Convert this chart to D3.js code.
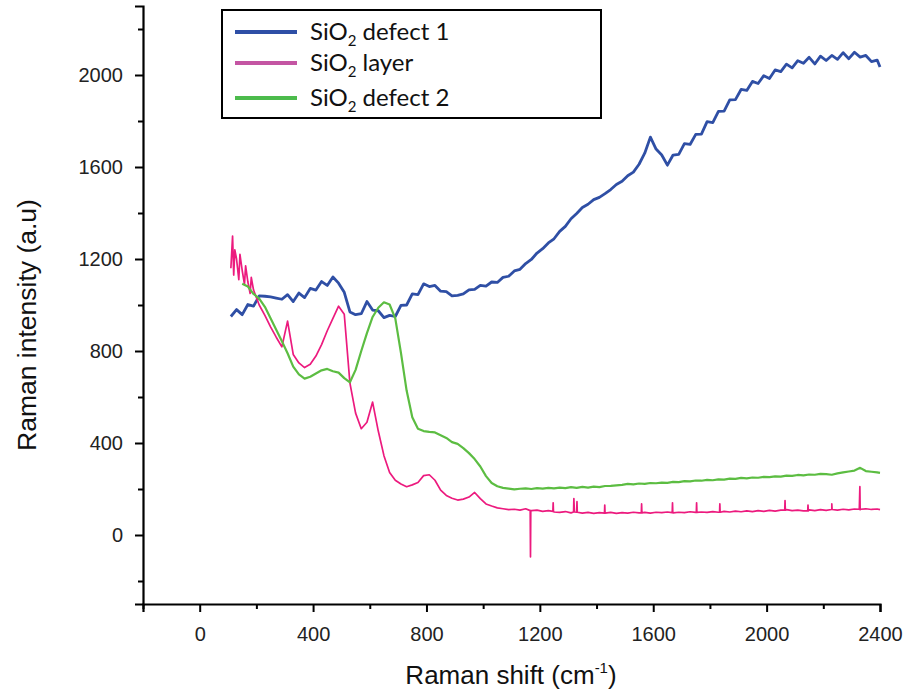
<!DOCTYPE html>
<html><head><meta charset="utf-8">
<script src="https://cdn.jsdelivr.net/npm/d3@7"></script>
<style>body{margin:0;background:#fff}svg{display:block}</style>
</head><body><svg id="c" width="907" height="693"></svg>
<script>
// Raman shift grid (cm^-1): 110..2390 step 20, plus 2400
const shift = d3.range(110, 2400, 20).concat([2400]);

const defect1 = [950,980,958,1002,995,1040,1038,1035,1030,1025,1045,1015,1052,1032,1072,1065,1102,1085,1122,1095,
1055,970,958,962,1015,978,975,945,955,950,998,1000,1048,1045,1092,1080,1085,1060,1058,1040,
1042,1048,1066,1068,1085,1082,1100,1098,1120,1125,1148,1155,1180,1198,1226,1245,1270,1288,1320,1342,
1375,1398,1424,1438,1458,1468,1484,1502,1524,1538,1562,1578,1612,1660,1730,1678,1652,1608,1652,1655,
1702,1698,1742,1743,1797,1793,1842,1843,1892,1893,1937,1933,1972,1963,1997,1985,2022,2015,2047,2031,
2062,2051,2077,2048,2082,2063,2085,2068,2097,2071,2099,2078,2085,2058,2065,2035];

const layer = [1160,1200,1150,1100,1065,1000,955,905,860,818,930,785,748,728,742,778,828,888,942,995,
960,660,530,462,490,578,452,345,272,238,222,210,218,228,258,262,238,195,172,160,
152,156,165,185,158,135,126,118,114,110,112,108,114,106,108,103,106,100,98,102,
96,99,95,98,94,97,95,98,94,97,95,99,96,98,95,99,97,100,96,99,
97,101,98,100,98,102,99,103,100,104,101,105,102,106,103,107,104,108,110,106,
108,105,109,106,110,107,111,108,112,109,113,110,114,111,113,110];

// narrow spikes / early noise of the layer spectrum
const layerSpikeShift = [116,120,124,138,142,158,162,178,182,
1166,1167,1168,1246,1247,1248,1319,1320,1322,1330,1331,1332,1428,1429,1430,1558,1559,1560,
1667,1668,1669,1752,1753,1754,1834,1835,1836,2064,2065,2066,2145,2146,2147,2229,2230,2231,2327,2329,2331];
const layerSpikeValue = [1300,1130,1240,1110,1220,1090,1170,1050,1120,
106,-95,106,103,140,103,100,158,100,99,145,99,95,130,95,96,135,96,
97,140,97,98,140,98,99,135,99,108,150,108,105,130,105,111,135,111,112,210,112];

const defect2 = [null,null,1092,1080,1048,1028,992,942,892,842,790,732,698,680,688,702,716,722,712,706,
682,664,718,800,878,948,988,1012,1002,942,792,628,512,462,452,448,446,434,422,404,
396,378,356,330,298,256,226,212,205,202,198,201,203,200,204,202,205,203,206,204,
208,205,209,206,210,208,213,214,216,218,222,220,224,222,226,225,228,227,231,230,
234,233,237,236,240,238,242,241,245,244,248,246,250,249,253,252,255,254,258,257,
261,259,263,262,266,265,262,268,272,276,280,292,278,275,272,270];

const seriesNames = ["defect 1", "layer", "defect 2"];
const lineColors = ["#2f4fa5", "#ec1a7e", "#5cbd42"];
const legendColors = ["#2e4fa6", "#c455a3", "#4cbb4c"];
const xTicks = [0, 400, 800, 1200, 1600, 2000, 2400];
const yTicks = [0, 400, 800, 1200, 1600, 2000];

const svg = d3.select("#c");
const x = d3.scaleLinear().domain([-200, 2400]).range([143, 880]);
const y = d3.scaleLinear().domain([-300, 2300]).range([604, 6]);

const pts = arr => shift.map((s, i) => ({s, v: arr[i]})).filter(d => d.v != null);
const layerPts = pts(layer).concat(layerSpikeShift.map((s, i) => ({s, v: layerSpikeValue[i]})))
  .sort((a, b) => a.s - b.s);

const line = d3.line().x(d => x(d.s)).y(d => y(d.v));

const data = [
  {pts: pts(defect1), c: lineColors[0], w: 2.8},
  {pts: layerPts, c: lineColors[1], w: 1.7},
  {pts: pts(defect2), c: lineColors[2], w: 2.2}
];
svg.append("g").selectAll("path").data(data).join("path")
  .attr("d", d => line(d.pts)).attr("fill", "none")
  .attr("stroke", d => d.c).attr("stroke-width", d => d.w).attr("stroke-linejoin", "round");

// axes
const font = "Arial, 'Liberation Sans', Helvetica, sans-serif";
const xAxis = svg.append("g").attr("transform", "translate(0,604)")
  .call(d3.axisBottom(x).tickValues(xTicks).tickSize(8).tickPadding(15).tickFormat(d3.format("d")));
const xMinor = svg.append("g").attr("transform", "translate(0,604)")
  .call(d3.axisBottom(x).tickValues(d3.range(-200, 2400, 400)).tickSize(5).tickFormat(""));
const yAxis = svg.append("g").attr("transform", "translate(143,0)")
  .call(d3.axisLeft(y).tickValues(yTicks).tickSize(8).tickPadding(12).tickFormat(d3.format("d")));
const yMinor = svg.append("g").attr("transform", "translate(143,0)")
  .call(d3.axisLeft(y).tickValues(d3.range(-200, 2300, 400)).tickSize(5).tickFormat(""));
[xAxis, xMinor, yAxis, yMinor].forEach(g => {
  g.attr("font-family", font);
  g.select(".domain").attr("stroke", "#000").attr("stroke-width", 2.2);
  g.selectAll(".tick line").attr("stroke", "#000").attr("stroke-width", 2);
  g.selectAll("text").attr("font-family", font).attr("font-size", 20).attr("fill", "#222");
});
xMinor.select(".domain").remove();
yMinor.select(".domain").remove();

// axis titles
const xt = svg.append("text").attr("x", 511).attr("y", 684).attr("text-anchor", "middle")
  .attr("font-family", font).attr("font-size", 26).attr("fill", "#111");
xt.append("tspan").text("Raman shift (cm");
xt.append("tspan").attr("dy", -11).attr("font-size", 15).text("-1");
xt.append("tspan").attr("dy", 11).text(")");
svg.append("text").attr("transform", "translate(36,325) rotate(-90)").attr("text-anchor", "middle")
  .attr("font-family", font).attr("font-size", 26.5).attr("fill", "#111").text("Raman intensity (a.u)");

// legend
const lg = svg.append("g");
lg.append("rect").attr("x", 222).attr("y", 10).attr("width", 379).attr("height", 108)
  .attr("fill", "#fff").attr("stroke", "#000").attr("stroke-width", 2);
const ly = [32, 63, 98];
seriesNames.forEach((n, i) => {
  lg.append("line").attr("x1", 235).attr("x2", 297).attr("y1", ly[i]).attr("y2", ly[i])
    .attr("stroke", legendColors[i]).attr("stroke-width", 4);
  const t = lg.append("text").attr("x", 310).attr("y", ly[i] + 8)
    .attr("font-family", "Lato, 'Open Sans', sans-serif").attr("font-size", 24).attr("fill", "#111");
  t.append("tspan").text("SiO");
  t.append("tspan").attr("dy", 6).attr("font-size", 15).text("2");
  t.append("tspan").attr("dy", -6).text(" " + n);
});
</script></body></html>
